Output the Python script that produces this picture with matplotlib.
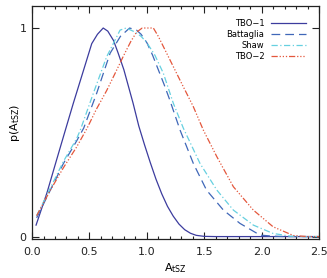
import matplotlib
matplotlib.use("Agg")
import matplotlib.pyplot as plt
from matplotlib.ticker import MultipleLocator

# ---- data ----
tbo1_x = [0.035, 0.13, 0.215, 0.29, 0.36, 0.45, 0.52, 0.57, 0.62, 0.66, 0.71, 0.75, 0.80,
          0.84, 0.88, 0.93, 0.98, 1.03, 1.08, 1.13, 1.18, 1.23, 1.28, 1.33, 1.38, 1.43,
          1.5, 1.6, 2.0, 2.5]
tbo1_y = [0.055, 0.21, 0.37, 0.51, 0.64, 0.80, 0.925, 0.97, 1.0, 0.985, 0.94, 0.88, 0.80,
          0.72, 0.64, 0.53, 0.44, 0.355, 0.275, 0.205, 0.145, 0.098, 0.06, 0.033, 0.016,
          0.006, 0.001, 0.0, 0.0, 0.0]

batt_x = [0.04, 0.157, 0.273, 0.39, 0.45, 0.563, 0.68, 0.77, 0.85, 0.91, 0.95, 1.0, 1.05,
          1.1, 1.15, 1.2, 1.29, 1.405, 1.52, 1.667, 1.812, 1.986, 2.1, 2.2, 2.5]
batt_y = [0.09, 0.22, 0.35, 0.46, 0.52, 0.687, 0.879, 0.96, 1.0, 0.99, 0.97, 0.93, 0.87,
          0.80, 0.73, 0.655, 0.51, 0.351, 0.223, 0.127, 0.063, 0.007, 0.002, 0.0, 0.0]

shaw_x = [0.04, 0.157, 0.273, 0.389, 0.42, 0.534, 0.65, 0.767, 0.82, 0.9, 0.95, 1.0, 1.07,
          1.144, 1.231, 1.318, 1.463, 1.61, 1.754, 1.928, 2.1, 2.25, 2.35, 2.5]
shaw_y = [0.10, 0.23, 0.36, 0.47, 0.51, 0.687, 0.862, 0.99, 1.0, 0.98, 0.96, 0.93, 0.87,
          0.783, 0.639, 0.52, 0.351, 0.223, 0.127, 0.055, 0.015, 0.002, 0.0, 0.0]

tbo2_x = [0.04, 0.157, 0.273, 0.389, 0.48, 0.56, 0.65, 0.73, 0.80, 0.86, 0.91, 0.96, 1.057,
          1.1, 1.173, 1.289, 1.405, 1.492, 1.61, 1.754, 1.928, 2.1, 2.277, 2.4, 2.5]
tbo2_y = [0.10, 0.22, 0.33, 0.43, 0.52, 0.61, 0.70, 0.79, 0.87, 0.935, 0.98, 1.0, 1.0,
          0.96, 0.879, 0.75, 0.623, 0.511, 0.383, 0.239, 0.127, 0.047, 0.005, 0.0, 0.0]

labels = ["TBO\u22121", "Battaglia", "Shaw", "TBO\u22122"]
xticks = [0.0, 0.5, 1.0, 1.5, 2.0, 2.5]
xticklabels = ["0.0", "0.5", "1.0", "1.5", "2.0", "2.5"]
yticks = [0, 1]
yticklabels = ["0", "1"]

plt.rcParams['font.family'] = ['DejaVu Sans']

fig = plt.figure(figsize=(3.27, 2.78), dpi=100)
ax = fig.add_axes([0.098, 0.14, 0.8775, 0.838])

lw = 0.9
ax.plot(tbo1_x, tbo1_y, color="#3c3c9e", lw=lw, ls="-", label=labels[0])
ax.plot(batt_x, batt_y, color="#3f67b8", lw=lw, ls=(0, (7, 4)), label=labels[1])
ax.plot(shaw_x, shaw_y, color="#66d0e0", lw=lw, ls=(0, (5, 2, 1, 2)), label=labels[2])
ax.plot(tbo2_x, tbo2_y, color="#e4573c", lw=lw, ls=(0, (5, 1.5, 1, 1.5, 1, 1.5, 1, 1.5)),
        label=labels[3])

ax.set_xlim(0, 2.5)
ax.set_ylim(-0.012, 1.105)
ax.set_xticks(xticks)
ax.set_xticklabels(xticklabels)
ax.set_yticks(yticks)
ax.set_yticklabels(yticklabels)
ax.xaxis.set_minor_locator(MultipleLocator(0.1))
ax.tick_params(axis='both', which='both', direction='in', top=True, right=True,
               labelsize=8, colors='#222222', width=0.8)
ax.tick_params(axis='x', which='major', length=5, pad=6)
ax.tick_params(axis='x', which='minor', length=2.5)
ax.tick_params(axis='y', which='major', length=5, pad=4)
for s in ax.spines.values():
    s.set_linewidth(0.9)
    s.set_color('#222222')

ax.set_xlabel(r"A$_{\rm tSZ}$", fontsize=8, labelpad=3)
ax.set_ylabel(r"p(A$_{\rm tSZ}$)", fontsize=8, labelpad=-2)

leg = ax.legend(loc='upper right', frameon=False, markerfirst=False, fontsize=6,
                handlelength=4.2, handletextpad=0.8, labelspacing=0.25,
                bbox_to_anchor=(0.975, 0.97), borderaxespad=0.3)

fig.savefig("out.png", dpi=100)
